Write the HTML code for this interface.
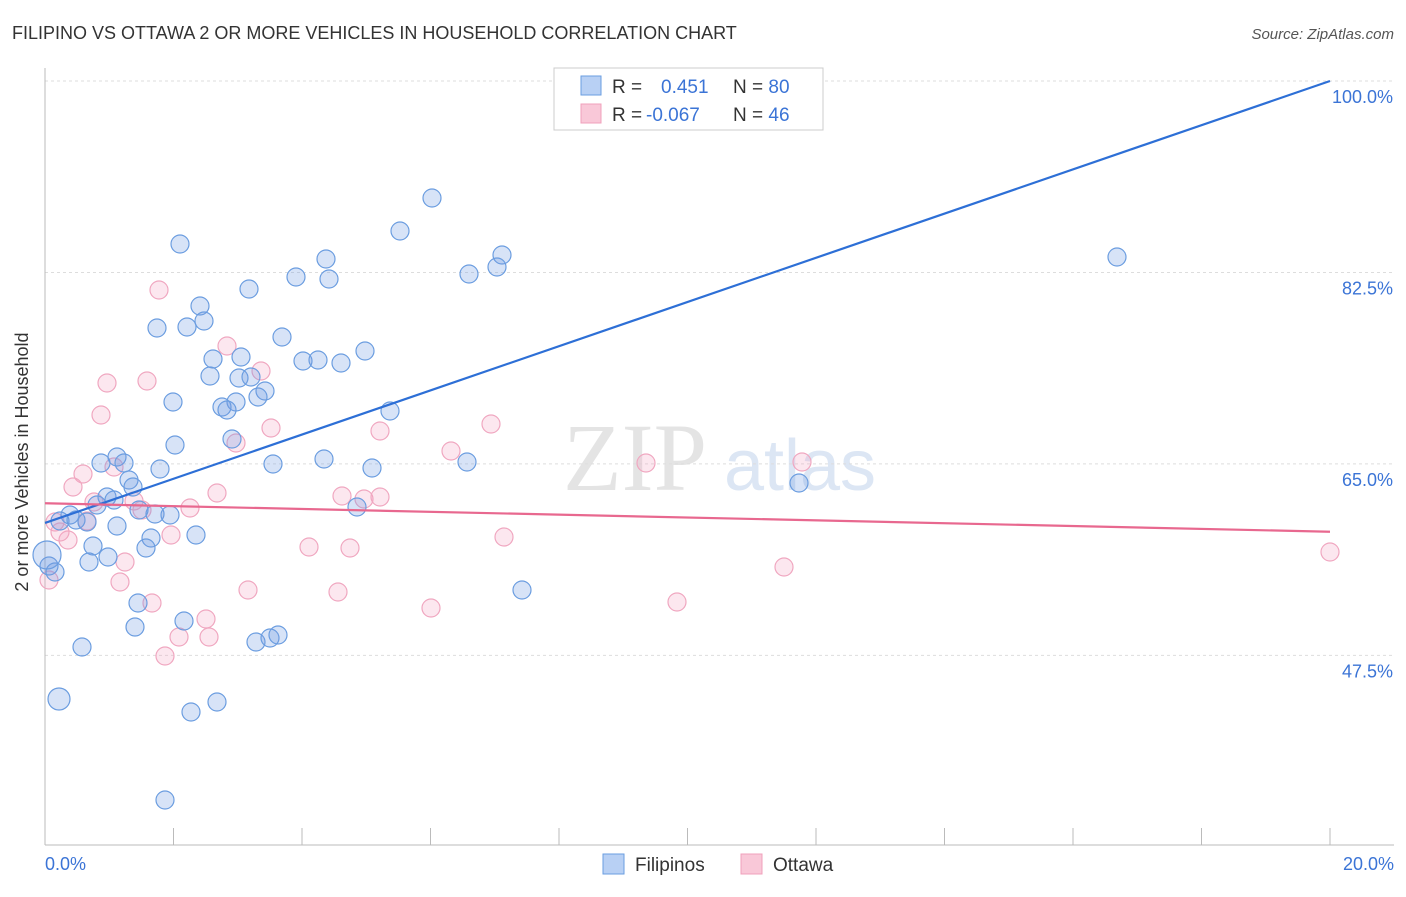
<!DOCTYPE html>
<html><head><meta charset="utf-8"><style>
body{margin:0;background:#fff;font-family:"Liberation Sans",sans-serif}
</style></head><body>
<svg id="chart" width="1406" height="892" xmlns="http://www.w3.org/2000/svg">
<text x="12" y="39" font-size="18" fill="#333">FILIPINO VS OTTAWA 2 OR MORE VEHICLES IN HOUSEHOLD CORRELATION CHART</text>
<text x="1394" y="39" font-size="15" fill="#555" font-style="italic" text-anchor="end">Source: ZipAtlas.com</text>
<text x="635" y="490" font-size="96" fill="#e4e4e4" font-family="Liberation Serif,serif" text-anchor="middle">ZIP</text>
<text x="800" y="490" font-size="72" fill="#dce6f4" text-anchor="middle">atlas</text>
<g id="grid"></g>
<line x1="45" y1="68" x2="45" y2="845" stroke="#bbb"/>
<line x1="45" y1="845" x2="1394" y2="845" stroke="#bbb"/>
<g id="xticks"></g>
<text x="22" y="456" font-size="18" fill="#333" text-anchor="middle" transform="rotate(-90 28 456)">2 or more Vehicles in Household</text>
<text x="45" y="870" font-size="18" fill="#3b74d6">0.0%</text>
<text x="1394" y="870" font-size="18" fill="#3b74d6" text-anchor="end">20.0%</text>
<g id="pts"></g>
<g id="lines"></g>
<g>
<rect x="554" y="68" width="269" height="62" fill="#fff" stroke="#ccc"/>
<rect x="581" y="76" width="20" height="19" fill="#b8d0f4" stroke="#6a9ee0"/>
<rect x="581" y="104" width="20" height="19" fill="#f9c8d8" stroke="#f0a0bb"/>
<text x="612" y="93" font-size="19" fill="#333">R = <tspan fill="#3b74d6" x="661">0.451</tspan><tspan x="733">N = </tspan><tspan fill="#3b74d6">80</tspan></text>
<text x="612" y="121" font-size="19" fill="#333">R = <tspan fill="#3b74d6" x="646">-0.067</tspan><tspan x="733">N = </tspan><tspan fill="#3b74d6">46</tspan></text>
</g>
<g>
<rect x="603" y="854" width="21" height="20" fill="#b8d0f4" stroke="#6a9ee0"/>
<text x="635" y="871" font-size="19" fill="#333">Filipinos</text>
<rect x="741" y="854" width="21" height="20" fill="#f9c8d8" stroke="#f0a0bb"/>
<text x="773" y="871" font-size="19" fill="#333">Ottawa</text>
</g>
</svg>
<script>
const yTicks=[100,82.5,65,47.5];
const xTickVals=[0,2,4,6,8,10,12,14,16,18,20];
const bluePx=[[432,198],[400,231],[180,244],[502,255],[469,274],[497,267],[326,259],[296,277],[329,279],[249,289],[200,306],[204,321],[157,328],[187,327],[282,337],[241,357],[213,359],[365,351],[303,361],[318,360],[341,363],[210,376],[239,378],[251,377],[265,391],[258,397],[173,402],[236,402],[222,407],[227,410],[390,411],[232,439],[175,445],[117,457],[101,463],[124,463],[273,464],[160,469],[324,459],[372,468],[467,462],[129,480],[133,487],[107,497],[114,500],[97,505],[155,514],[139,510],[170,515],[357,507],[70,515],[60,521],[76,520],[87,522],[117,526],[151,538],[196,535],[93,546],[146,548],[89,562],[108,557],[49,566],[55,572],[138,603],[184,621],[135,627],[82,647],[256,642],[270,638],[278,635],[59,699],[217,702],[191,712],[165,800],[522,590],[799,483],[1117,257],[47,555]];
const pinkPx=[[159,290],[227,346],[107,383],[147,381],[261,371],[101,415],[271,428],[380,431],[236,443],[491,424],[451,451],[646,463],[802,462],[83,474],[114,467],[73,487],[217,493],[342,496],[364,499],[380,497],[94,502],[134,501],[142,510],[190,508],[55,522],[68,540],[171,535],[60,532],[309,547],[350,548],[504,537],[1330,552],[125,562],[120,582],[49,580],[248,590],[338,592],[152,603],[431,608],[677,602],[784,567],[206,619],[179,637],[209,637],[165,656],[87,521]];
// data values (x %, y %)
const toX=p=>(p-45)/1285*20, toY=p=>100-(p-81)/10.94;
const blueX=bluePx.map(p=>toX(p[0])), blueY=bluePx.map(p=>toY(p[1]));
const pinkX=pinkPx.map(p=>toX(p[0])), pinkY=pinkPx.map(p=>toY(p[1]));
const blueTrend=[[0,59.6],[20,100]];
const pinkTrend=[[0,61.4],[20,58.8]];
const sx=v=>45+v/20*1285, sy=v=>81+(100-v)*10.94;
const NS="http://www.w3.org/2000/svg";
function mk(t,a,parent){const e=document.createElementNS(NS,t);for(const k in a)e.setAttribute(k,a[k]);document.getElementById(parent).appendChild(e);return e;}
yTicks.forEach(v=>{
 const l=mk('line',{x1:45,x2:1394,y1:sy(v),y2:sy(v),stroke:'#ddd','stroke-dasharray':'3,3'},'grid');
 
 
 const t=mk('text',{x:1393,y:sy(v)+22,'font-size':18,fill:'#3b74d6','text-anchor':'end'},'grid');
 t.textContent=v.toFixed(1)+'%';
 
 
});
xTickVals.slice(1).forEach(v=>{
 const l=mk('line',{x1:sx(v),x2:sx(v),y1:828,y2:845,stroke:'#bbb'},'xticks');
 
 
});
function dots(xs,ys,fill,stroke,name){xs.forEach((x,i)=>{
 let r=9; if(name==='filipino-point'&&i===xs.length-1)r=14; if(name==='filipino-point'&&i===70)r=11;
 const c=mk('circle',{cx:sx(x),cy:sy(ys[i]),r:r,fill:fill,stroke:stroke,'stroke-width':1.2},'pts');
 
 
});}
dots(pinkX,pinkY,'rgba(244,160,190,0.25)','#f0a7c0','ottawa-point');
dots(blueX,blueY,'rgba(110,155,225,0.28)','#6b9de0','filipino-point');
const bl=mk('line',{x1:sx(blueTrend[0][0]),y1:sy(blueTrend[0][1]),x2:sx(blueTrend[1][0]),y2:sy(blueTrend[1][1]),stroke:'#2d6fd6','stroke-width':2.2},'lines');


const pl=mk('line',{x1:sx(pinkTrend[0][0]),y1:sy(pinkTrend[0][1]),x2:sx(pinkTrend[1][0]),y2:sy(pinkTrend[1][1]),stroke:'#e8688f','stroke-width':2.2},'lines');


</script>
</body></html>
